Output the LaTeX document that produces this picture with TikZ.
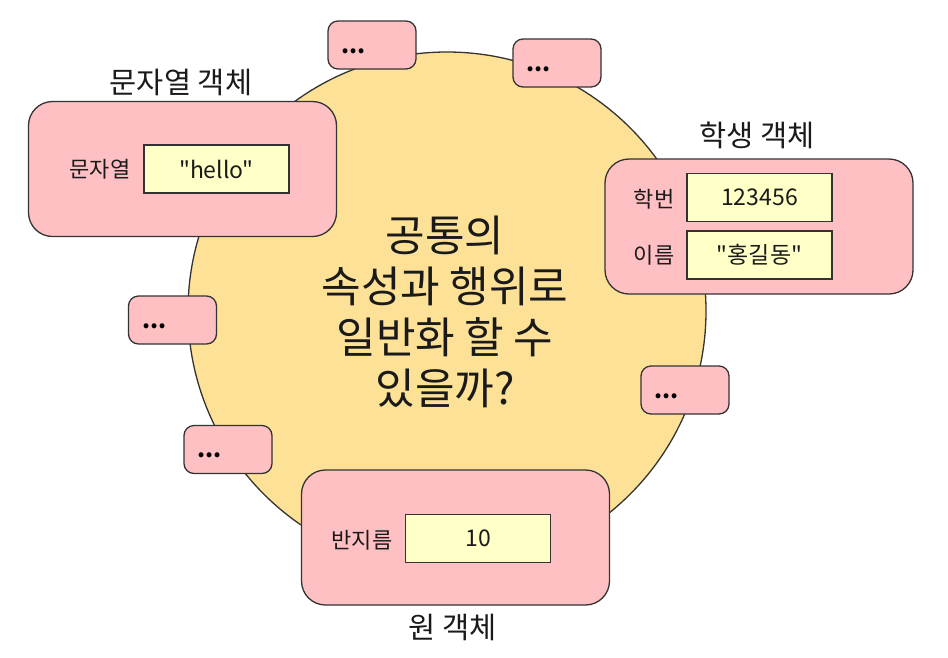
\documentclass[tikz,border=0pt]{standalone}
\usepackage{fontspec}
\setmainfont{Noto Sans CJK KR}[Ligatures=TeXOff]
\definecolor{circfill}{HTML}{FDE196}
\definecolor{pinkfill}{HTML}{FFC0C4}
\definecolor{valfill}{HTML}{FFFFC8}
\definecolor{edge}{HTML}{333333}
\definecolor{txt}{HTML}{1A1A1A}
\begin{document}
\begin{tikzpicture}[x=1pt,y=-1pt,
  objbox/.style={draw=edge, line width=1.3pt, fill=pinkfill, rounded corners=24pt,
    minimum width=308pt, minimum height=135pt, inner sep=0pt},
  smallbox/.style={draw=edge, line width=1.3pt, fill=pinkfill, rounded corners=10pt,
    minimum width=88pt, minimum height=48pt, inner sep=0pt},
  valbox/.style={draw=edge, line width=1.1pt, fill=valfill,
    minimum width=145pt, minimum height=48pt, inner sep=0pt, text=txt,
    font=\fontsize{23}{27}\selectfont},
  lbl/.style={text=txt, inner sep=0pt, font=\fontsize{22}{26}\selectfont},
  title/.style={text=txt, inner sep=0pt, font=\fontsize{29.5}{33}\selectfont},
  dots/.style={text=black, inner sep=0pt, anchor=base west, font=\fontsize{23}{26}\selectfont\bfseries},
]
\useasboundingbox (0,0) rectangle (948,657);
\fill[white] (0,0) rectangle (948,657);
% big circle
\node[circle, draw=edge, line width=1.3pt, fill=circfill, minimum size=518pt, inner sep=0pt] (circ) at (447,311) {};
% central question
\node[text=txt, align=center, inner sep=0pt, font=\fontsize{43}{51}\selectfont] (question) at (445,312)
  {공통의\\속성과 행위로\\일반화 할 수\hspace*{0.4em}\\있을까?};
% small boxes
\node[smallbox] (sA) at (372,45) {};
\node[smallbox] (sB) at (557,63) {};
\node[smallbox] (sC) at (172.5,320) {};
\node[smallbox] (sD) at (228,449.5) {};
\node[smallbox] (sE) at (685,390) {};
\foreach \b in {sA,sB,sC,sD,sE}{
  \node[dots] (\b-dots) at ([xshift=14pt,yshift=-8pt]\b.west) {...};
}
% string object
\node[objbox] (strobj) at (182.5,169) {};
\node[valbox] (strval) at (216.5,169) {"hello"};
\node[lbl] (strlbl) at (100,169) {문자열};
\node[title] (strtitle) at (181,82) {문자열 객체};
% student object
\node[objbox] (stuobj) at (759,226.5) {};
\node[valbox] (stuid) at (759.5,197.5) {123456};
\node[valbox] (stuname) at (759.5,255) {"홍길동"};
\node[lbl] (idlbl) at (654,199) {학번};
\node[lbl] (namelbl) at (654,255) {이름};
\node[title] (stutitle) at (757,135) {학생 객체};
% circle object
\node[objbox] (cirobj) at (455.5,537.5) {};
\node[valbox] (radval) at (478,538.5) {10};
\node[lbl] (radlbl) at (362,540) {반지름};
\node[title] (cirtitle) at (453,627) {원 객체};
\end{tikzpicture}
\end{document}
